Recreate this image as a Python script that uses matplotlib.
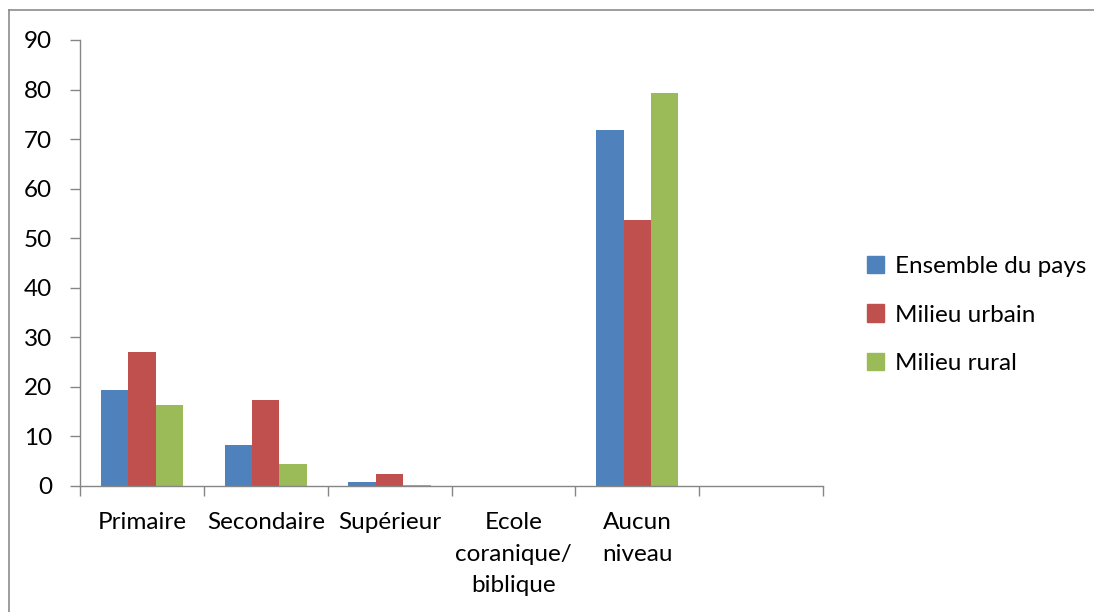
import matplotlib
matplotlib.use("Agg")
import matplotlib.pyplot as plt
import numpy as np
from matplotlib.patches import Rectangle
from matplotlib.lines import Line2D

categories = ["Primaire", "Secondaire", "Supérieur", "Ecole\ncoranique/\nbiblique", "Aucun\nniveau", ""]
series_names = ["Ensemble du pays", "Milieu urbain", "Milieu rural"]
ensemble = [19.3, 8.3, 0.9, 0, 71.8, 0]
urbain = [27.0, 17.3, 2.5, 0, 53.6, 0]
rural = [16.3, 4.4, 0.2, 0, 79.3, 0]
colors = ["#4F81BD", "#C0504D", "#9BBB59"]
yticks = [0, 10, 20, 30, 40, 50, 60, 70, 80, 90]

plt.rcParams['font.family'] = ['Lato', 'DejaVu Sans']
FS = 17.5

fig = plt.figure(figsize=(10.94, 6.12), dpi=100)
W, H = 1094, 612
ax = fig.add_axes([80 / W, (H - 486) / H, (823 - 80) / W, (486 - 40) / H])

x = np.arange(len(categories))
bw = 0.222
for i, (vals, name, c) in enumerate(zip([ensemble, urbain, rural], series_names, colors)):
    ax.bar(x + (i - 1) * bw, vals, width=bw, color=c, label=name, zorder=2)

ax.set_xlim(-0.5, len(categories) - 0.5)
ax.set_ylim(0, 90)
ax.set_yticks(yticks)
ax.set_yticklabels([str(v) for v in yticks], fontsize=FS)
ax.set_xticks(x)
ax.set_xticklabels(categories, fontsize=FS, linespacing=1.62)
ax.tick_params(axis='x', length=0, pad=19)
ax.set_xticks(np.arange(-0.5, len(categories)), minor=True)
ax.tick_params(axis='x', which='minor', length=7, color='#868686', width=1, direction='out')
ax.tick_params(axis='y', length=7, color='#868686', width=1, direction='out', pad=13)
for s in ['top', 'right']:
    ax.spines[s].set_visible(False)
for s in ['left', 'bottom']:
    ax.spines[s].set_color('#868686')
    ax.spines[s].set_linewidth(1)

handles = [Rectangle((0, 0), 1, 1, color=c) for c in colors]
fig.legend(handles, series_names, loc='center left', bbox_to_anchor=(845 / W, 1 - 315 / H),
           frameon=False, fontsize=FS, handlelength=0.7, handleheight=0.7,
           handletextpad=0.45, labelspacing=1.15)

# outer chart frame
fig.add_artist(Line2D([9 / W, 9 / W], [0, 1 - 10 / H], color='#8c8c8c', lw=1.2, transform=fig.transFigure))
fig.add_artist(Line2D([9 / W, 1], [1 - 10 / H, 1 - 10 / H], color='#8c8c8c', lw=1.2, transform=fig.transFigure))

fig.savefig("out.png", dpi=100)
